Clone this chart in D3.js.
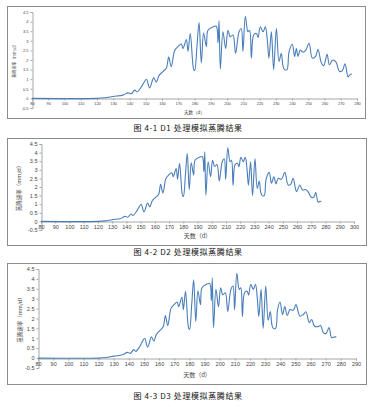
<!DOCTYPE html>
<meta charset="utf-8">
<script src="https://d3js.org/d3.v7.min.js"></script>
<style>
  body { margin: 0; background: #fff; font-family: "Noto Sans CJK SC", "Noto Sans", sans-serif; }
  .frame { fill: #fff; stroke: #8c8c8c; stroke-width: 1; }
  .axis path, .axis line { stroke: #a6a6a6; }
  .axis text { fill: #444; }
</style>
<body>
<div id="viz"></div>
<script>
// shared rising part / middle part of the season (day, mm/d)
const bodyDays = [80, 120, 125, 130, 136, 139, 141, 143.2, 144.6, 147.3, 148.7, 150.4, 152.4, 154.9, 156.5, 158.2, 160.6, 162.7, 164.1, 165.7, 167.8, 169.8, 171.9, 172.9, 175, 176, 177.4, 179.5, 180.1, 181.5, 182.8, 184.2, 185.6, 187.3, 188.3, 191.4, 193.4, 194.5, 195.1, 195.9, 197.5, 199.2, 200.6, 202, 203.7, 205.3, 207.4, 208.8, 209.8, 211.3, 212.9, 213.9, 215, 216.4, 218.1, 219.1, 220.5, 222.2, 223.6, 224.8, 225.8, 227.3, 228.7, 230.4, 232, 233.4, 234.5, 235.5, 236.9, 238.2];
const bodyVals = [0, 0, 0.03, 0.1, 0.17, 0.29, 0.24, 0.43, 0.34, 0.6, 0.8, 1.0, 0.55, 1.07, 0.85, 1.2, 1.4, 1.58, 2.15, 1.65, 2.5, 2.7, 2.83, 2.6, 3.07, 2.45, 3.38, 1.5, 1.45, 2.7, 3.95, 1.85, 3.4, 2.7, 3.55, 3.73, 3.76, 2.9, 4.04, 1.53, 3.47, 2.6, 3.55, 3.2, 3.3, 2.35, 3.47, 3.64, 2.44, 4.28, 3.47, 3.55, 2.1, 3.3, 3.38, 3.18, 3.73, 3.47, 3.73, 3.04, 2.1, 3.47, 1.5, 3.64, 1.92, 2.35, 1.67, 1.5, 1.5, 2.44];

// late-season tails for each treatment
const tailDays1 = [240.2, 241.6, 242.7, 243.7, 245.1, 246.8, 248.4, 250.5, 252.5, 254.6, 256, 258, 259.5, 261.6, 263, 265, 267, 269.3, 271, 272.6, 274.5, 275.3, 276.8];
const tailVals1 = [2.82, 2.18, 2.6, 2.18, 2.52, 2.4, 2.5, 2.87, 2.1, 2.2, 2.56, 1.87, 1.7, 2.3, 1.75, 2.0, 1.9, 1.4, 1.45, 1.8, 1.12, 1.2, 1.28];
const tailDays2 = [240.4, 242, 243.7, 245.2, 246.7, 249, 251.4, 253.7, 255.5, 257.2, 259.6, 261.9, 263.8, 266, 267.7, 270, 271.7, 273.1, 274.8, 276, 277];
const tailVals2 = [2.85, 2.22, 2.6, 2.18, 2.5, 2.45, 2.85, 2.12, 2.15, 2.5, 1.73, 2.12, 1.83, 1.85, 1.73, 1.4, 1.4, 1.68, 1.12, 1.17, 1.15];
const tailDays3 = [239.8, 241.5, 243, 244.6, 246.4, 248.6, 250.3, 253, 255.2, 256.9, 259.2, 260.7, 262.5, 265.1, 266.6, 268.4, 270.2, 272.2, 273.9, 276.1, 277];
const tailVals3 = [2.83, 2.2, 2.6, 2.15, 2.45, 2.42, 2.7, 2.12, 2.2, 2.34, 1.79, 1.95, 1.62, 1.59, 1.65, 1.29, 1.24, 1.54, 1.04, 1.07, 1.07];

const yTicks = [-0.5, 0, 0.5, 1, 1.5, 2, 2.5, 3, 3.5, 4, 4.5];
const xTicks1 = d3.range(80, 281, 10);
const xTicks2 = d3.range(80, 301, 10);
const xTicks3 = d3.range(80, 291, 10);
const yTitle = "蒸腾速率（mm/d）";
const xTitle = "天数（d）";
const captions = ["图 4-1 D1 处理模拟蒸腾结果", "图 4-2 D2 处理模拟蒸腾结果", "图 4-3 D3 处理模拟蒸腾结果"];

const svg = d3.select("#viz").append("svg")
  .attr("width", 376).attr("height", 407);

function series(days, vals) {
  return days.map((d, i) => ({ day: d, v: vals[i] }));
}

function drawChart(o) {
  const g = svg.append("g");
  g.append("rect").attr("class", "frame")
    .attr("x", o.frame[0] + 0.5).attr("y", o.frame[1] + 0.5)
    .attr("width", o.frame[2] - o.frame[0]).attr("height", o.frame[3] - o.frame[1]);

  const x = d3.scaleLinear().domain([80, o.xMax]).range([o.left, o.right]);
  const y = d3.scaleLinear().domain([-0.5, 4.5]).range([o.bottom, o.top]);

  // y axis
  g.append("g").attr("class", "axis")
    .attr("transform", `translate(${o.left + 0.5},0)`)
    .call(d3.axisLeft(y).tickValues(yTicks).tickSize(2).tickPadding(2)
      .tickFormat(d => d))
    .call(a => a.selectAll("text").style("font-size", o.fs + "px"));

  // x axis on the zero line, labels pushed down to the -0.5 level
  g.append("g").attr("class", "axis")
    .attr("transform", `translate(0,${Math.round(y(0)) + 0.5})`)
    .call(d3.axisBottom(x).tickValues(o.xTicks).tickSize(2).tickPadding(2).tickSizeOuter(2))
    .call(a => a.selectAll("text").style("font-size", o.fs + "px"));

  const data = series(bodyDays, bodyVals).concat(series(o.tailDays, o.tailVals));
  const line = d3.line().x(d => x(d.day)).y(d => y(d.v)).curve(d3.curveCatmullRom.alpha(0.5));
  g.append("path").datum(data)
    .attr("d", line)
    .attr("fill", "none")
    .attr("stroke", "#4a7ebb")
    .attr("stroke-width", 1.1);

  g.append("text")
    .attr("transform", `translate(${o.yTitleX},${(o.top + o.bottom) / 2}) rotate(-90)`)
    .attr("text-anchor", "middle").attr("dominant-baseline", "middle")
    .style("font-size", o.fs + "px").attr("fill", "#444")
    .text(yTitle);

  g.append("text")
    .attr("x", (o.left + o.right) / 2).attr("y", o.xTitleY)
    .attr("text-anchor", "middle").attr("dominant-baseline", "middle")
    .style("font-size", (o.fs + 0.5) + "px").attr("fill", "#444")
    .text(xTitle);

  g.append("text")
    .attr("x", 188).attr("y", o.capY)
    .attr("text-anchor", "middle").attr("dominant-baseline", "middle")
    .style("font-size", "8px").attr("fill", "#111")
    .style("letter-spacing", "0.6px")
    .text(o.caption);
}

drawChart({ frame: [7, 6, 365, 118], left: 32, right: 357, top: 12, bottom: 108, xMax: 280,
  xTicks: xTicks1, fs: 4, yTitleX: 15, xTitleY: 113, capY: 129,
  tailDays: tailDays1, tailVals: tailVals1, caption: captions[0] });
drawChart({ frame: [7, 138, 366, 245], left: 41, right: 354, top: 144, bottom: 230, xMax: 300,
  xTicks: xTicks2, fs: 5.5, yTitleX: 19, xTitleY: 236, capY: 253,
  tailDays: tailDays2, tailVals: tailVals2, caption: captions[1] });
drawChart({ frame: [7, 263, 366, 384], left: 38, right: 356, top: 269, bottom: 368, xMax: 290,
  xTicks: xTicks3, fs: 5.5, yTitleX: 20, xTitleY: 375, capY: 397,
  tailDays: tailDays3, tailVals: tailVals3, caption: captions[2] });
</script>
</body>
